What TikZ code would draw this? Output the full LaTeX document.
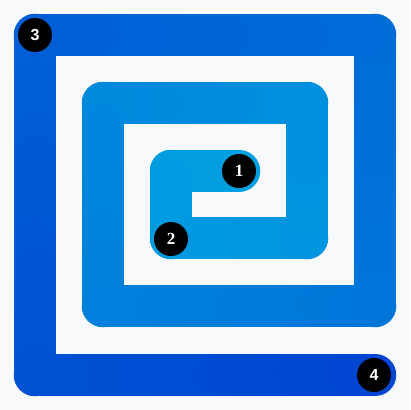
\documentclass[tikz,border=0pt]{standalone}
\usepackage{fontspec}
\setmainfont{Liberation Serif}
\setsansfont{Liberation Sans}
\definecolor{bgc}{HTML}{F8F9FB}
\begin{document}
\begin{tikzpicture}[x=1pt,y=-1pt,
  marker/.style={circle,fill=black,minimum size=34pt,inner sep=0pt,text=white,
    font=\fontsize{17}{17}\selectfont\bfseries}]
\fill[bgc] (0,0) rectangle (410,410);
\useasboundingbox (0,0) rectangle (410,410);
\def\total{2376}
\foreach \xa/\ya/\xb/\yb/\sa in {239/171/171/171/0, 171/171/171/238/68, 171/238/307/238/135,
  307/238/307/103/271, 307/103/103/103/406, 103/103/103/306/610, 103/306/375/306/813,
  375/306/375/35/1085, 375/35/35/35/1356, 35/35/35/375/1696, 35/375/375/375/2036}{
  \pgfmathsetmacro\len{abs(\xb-\xa)+abs(\yb-\ya)}
  \pgfmathtruncatemacro\n{ceil(\len/4)}
  \pgfmathsetmacro\dx{(\xb-\xa)/\n}
  \pgfmathsetmacro\dy{(\yb-\ya)/\n}
  \pgfmathsetmacro\ds{\len/\n}
  \foreach \i in {1,...,\n}{
    \pgfmathsetmacro\myt{(\sa+\ds*(\i-0.5))/\total}
    \pgfmathtruncatemacro\G{160-90*\myt}
    \pgfmathtruncatemacro\B{226-16*\myt}
    \definecolor{seg}{RGB}{0,\G,\B}
    \draw[seg,line width=42.5pt,line cap=round]
      ({\xa+\dx*(\i-1)},{\ya+\dy*(\i-1)}) --
      ({\xa+\dx*\i},{\ya+\dy*\i});
  }
}
\node[marker] (m1) at (239,171) {1};
\node[marker] (m2) at (171,239) {2};
\node[marker,font=\fontsize{16}{16}\selectfont\sffamily\bfseries] (m3) at (35,35) {3};
\node[marker,font=\fontsize{16}{16}\selectfont\sffamily\bfseries] (m4) at (374,375) {4};
\end{tikzpicture}
\end{document}
